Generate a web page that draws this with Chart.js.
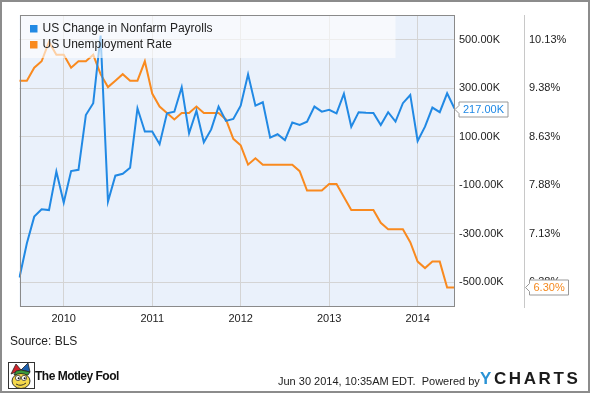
<!DOCTYPE html>
<html>
<head>
<meta charset="utf-8">
<script src="https://cdn.jsdelivr.net/npm/chart.js@4.4.1/dist/chart.umd.min.js"></script>
<style>
  html, body { margin: 0; padding: 0; background: #fff; }
  body { width: 590px; height: 393px; position: relative; overflow: hidden; font-family: "Liberation Sans", Arial, sans-serif; color: #222; }
  #chart { position: absolute; left: 0; top: 0; }
  #frame { position: absolute; left: 0; top: 0; width: 590px; height: 393px; box-sizing: border-box; border: 2px solid #8c8c8c; pointer-events: none; }
  .txt { position: absolute; white-space: nowrap; }
  #source { left: 10px; top: 334px; font-size: 12px; line-height: 14px; }
  #fool { left: 35px; top: 369px; font-size: 12px; line-height: 14px; font-weight: bold; letter-spacing: -0.5px; color: #111; }
  #stamp { left: 278px; top: 374px; font-size: 11px; line-height: 14px; }
  #ycharts { left: 480px; top: 369px; font-size: 17px; line-height: 20px; font-weight: bold; letter-spacing: 2.6px; color: #1b1b1b; }
  #ycharts span { color: #2a93d5; }
  #logo { position: absolute; left: 8px; top: 362px; }
</style>
</head>
<body>
<canvas id="chart" width="590" height="393"></canvas>
<div id="frame"></div>
<div class="txt" id="source">Source: BLS</div>
<svg id="logo" width="27" height="27" viewBox="0 0 27 27">
  <rect x="0.5" y="0.5" width="26" height="26" fill="#fff" stroke="#333" stroke-width="1"/>
  <path d="M3 12 L8 2 L13 8 Z" fill="#d2232a" stroke="#222" stroke-width="0.8"/>
  <path d="M13 8 L20 1 L22 10 Z" fill="#1c5fad" stroke="#222" stroke-width="0.8"/>
  <path d="M8 9 L13 8 L22 10 L20 13 L6 13 Z" fill="#3a9a3a" stroke="#222" stroke-width="0.8"/>
  <ellipse cx="13" cy="19" rx="9" ry="7.5" fill="#f5d84a" stroke="#222" stroke-width="0.9"/>
  <circle cx="10" cy="16" r="2.6" fill="#fff" stroke="#222" stroke-width="0.7"/>
  <circle cx="16" cy="16" r="2.6" fill="#fff" stroke="#222" stroke-width="0.7"/>
  <circle cx="10.6" cy="16.3" r="1" fill="#111"/>
  <circle cx="16.6" cy="16.3" r="1" fill="#111"/>
  <path d="M8 22 Q13 25 18 21" fill="none" stroke="#222" stroke-width="0.9"/>
</svg>
<div class="txt" id="fool">The Motley Fool</div>
<div class="txt" id="stamp">Jun 30 2014, 10:35AM EDT.&nbsp; Powered by</div>
<div class="txt" id="ycharts"><span>Y</span>CHARTS</div>
<script>
// month-end dates, Jun 2009 .. May 2014
const months = [
  '2009-06', '2009-07', '2009-08', '2009-09', '2009-10', '2009-11', '2009-12',
  '2010-01', '2010-02', '2010-03', '2010-04', '2010-05', '2010-06', '2010-07', '2010-08', '2010-09', '2010-10', '2010-11', '2010-12',
  '2011-01', '2011-02', '2011-03', '2011-04', '2011-05', '2011-06', '2011-07', '2011-08', '2011-09', '2011-10', '2011-11', '2011-12',
  '2012-01', '2012-02', '2012-03', '2012-04', '2012-05', '2012-06', '2012-07', '2012-08', '2012-09', '2012-10', '2012-11', '2012-12',
  '2013-01', '2013-02', '2013-03', '2013-04', '2013-05', '2013-06', '2013-07', '2013-08', '2013-09', '2013-10', '2013-11', '2013-12',
  '2014-01', '2014-02', '2014-03', '2014-04', '2014-05'
];

// US change in nonfarm payrolls, thousands
const payrolls = [
  -480, -339, -229, -199, -202, -43, -171, -41, -36, 190, 239, 518,
  -167, -60, -52, -27, 218, 122, 122, 70, 197, 204, 305, 115,
  208, 78, 131, 225, 166, 174, 229, 358, 229, 243, 97, 111,
  87, 159, 149, 163, 225, 204, 212, 197, 278, 142, 202, 200,
  199, 149, 202, 163, 239, 273, 83, 142, 221, 202, 280, 217
];

// US unemployment rate, %
const unemployment = [
  9.5, 9.5, 9.7, 9.8, 10.1, 9.9, 9.9, 9.7, 9.8, 9.8, 9.9, 9.6,
  9.4, 9.5, 9.6, 9.5, 9.5, 9.8, 9.3, 9.1, 9.0, 8.9, 9.0, 9.0,
  9.1, 9.0, 9.0, 9.0, 8.9, 8.6, 8.5, 8.2, 8.3, 8.2, 8.2, 8.2,
  8.2, 8.2, 8.1, 7.8, 7.8, 7.8, 7.9, 7.9, 7.7, 7.5, 7.5, 7.5,
  7.5, 7.3, 7.2, 7.2, 7.2, 7.0, 6.7, 6.6, 6.7, 6.7, 6.3, 6.3
];

const yearLabels = ['2010', '2011', '2012', '2013', '2014'];
const payrollTicks = [-500, -300, -100, 100, 300, 500];
const rateTicks = [6.38, 7.13, 7.88, 8.63, 9.38, 10.13];

const FONT = '"Liberation Sans", Arial, sans-serif';
const BLUE = '#2189e4';
const ORANGE = '#f98a1f';

// year label sits on the December point (end of month ~ Jan 1)
function yearFor(cat) {
  if (!cat.endsWith('-12')) return '';
  const y = String(+cat.slice(0, 4) + 1);
  return yearLabels.includes(y) ? y : '';
}

const bgPlugin = {
  id: 'plotBg',
  beforeDraw(chart) {
    const { ctx, chartArea: a } = chart;
    ctx.save();
    ctx.fillStyle = '#eaf1fb';
    ctx.fillRect(a.left, a.top, a.right - a.left, a.bottom - a.top);
    ctx.restore();
  }
};

const legendPlugin = {
  id: 'overlayLegend',
  afterDatasetsDraw(chart) {
    const { ctx, chartArea: a } = chart;
    ctx.save();
    ctx.fillStyle = 'rgba(255,255,255,0.6)';
    ctx.fillRect(a.left, a.top, 376, 43);
    ctx.font = '12px ' + FONT;
    ctx.textBaseline = 'middle';
    chart.data.datasets.forEach((ds, i) => {
      const y = a.top + 14 + i * 16;
      ctx.fillStyle = ds.borderColor;
      ctx.fillRect(a.left + 10.5, y - 4, 7.5, 7.5);
      ctx.fillStyle = '#222';
      ctx.fillText(ds.label, a.left + 23, y);
    });
    ctx.restore();
  }
};

function drawTag(ctx, x, y, text, color) {
  ctx.font = '11px ' + FONT;
  const w = Math.round(ctx.measureText(text).width) + 8;
  const h = 15;
  const bx = x + 4;
  y = Math.round(y) + 0.5;
  ctx.beginPath();
  ctx.moveTo(x, y);
  ctx.lineTo(bx, y - 4);
  ctx.lineTo(bx, y - h / 2);
  ctx.lineTo(bx + w, y - h / 2);
  ctx.lineTo(bx + w, y + h / 2);
  ctx.lineTo(bx, y + h / 2);
  ctx.lineTo(bx, y + 4);
  ctx.closePath();
  ctx.fillStyle = '#fff';
  ctx.fill();
  ctx.strokeStyle = '#999';
  ctx.lineWidth = 1;
  ctx.stroke();
  ctx.fillStyle = color;
  ctx.textBaseline = 'middle';
  ctx.textAlign = 'left';
  ctx.fillText(text, bx + 4, y + 0.5);
}

const framePlugin = {
  id: 'plotFrame',
  afterDraw(chart) {
    const { ctx, chartArea: a, scales } = chart;
    ctx.save();
    ctx.strokeStyle = '#8a8a8a';
    ctx.lineWidth = 1;
    const l = Math.round(a.left) + 0.5, t = Math.round(a.top) + 0.5;
    const r = Math.round(a.right) - 0.5, b = Math.round(a.bottom) - 0.5;
    ctx.strokeRect(l, t, r - l, b - t);

    const lastP = payrolls[payrolls.length - 1];
    const lastR = unemployment[unemployment.length - 1];
    drawTag(ctx, Math.round(a.right), scales.y.getPixelForValue(lastP), lastP.toFixed(2) + 'K', '#1e88e5');
    drawTag(ctx, Math.round(scales.y1.left) + 0.5, scales.y1.getPixelForValue(lastR), lastR.toFixed(2) + '%', '#f5891f');
    ctx.restore();
  }
};

new Chart(document.getElementById('chart'), {
  type: 'line',
  data: {
    labels: months,
    datasets: [
      {
        label: 'US Change in Nonfarm Payrolls',
        data: payrolls,
        yAxisID: 'y',
        borderColor: BLUE,
        borderWidth: 2,
        pointRadius: 0,
        tension: 0,
        fill: false
      },
      {
        label: 'US Unemployment Rate',
        data: unemployment,
        yAxisID: 'y1',
        borderColor: ORANGE,
        borderWidth: 2,
        pointRadius: 0,
        tension: 0,
        fill: false
      }
    ]
  },
  options: {
    responsive: false,
    animation: false,
    events: [],
    layout: { padding: { left: 19.5, top: 15, right: 15.5, bottom: 66 } },
    plugins: {
      legend: { display: false },
      tooltip: { enabled: false }
    },
    scales: {
      x: {
        type: 'category',
        offset: false,
        afterFit(scale) { scale.height = 20; },
        grid: {
          drawTicks: false,
          color: (c) => (c.tick && c.tick.label) ? '#d4d4d4' : 'rgba(0,0,0,0)'
        },
        border: { display: false },
        ticks: {
          autoSkip: false,
          maxRotation: 0,
          padding: 5,
          color: '#222',
          font: { family: FONT, size: 11 },
          callback: function (val) { return yearFor(this.getLabelForValue(val)); }
        }
      },
      y: {
        position: 'right',
        min: -602,
        max: 603,
        afterFit(scale) { scale.width = 70; },
        afterBuildTicks(scale) { scale.ticks = payrollTicks.map(v => ({ value: v })); },
        grid: { color: '#d4d4d4', drawTicks: false },
        border: { display: false },
        ticks: {
          padding: 4.5,
          color: '#222',
          font: { family: FONT, size: 11 },
          callback: (v) => v.toFixed(2) + 'K'
        }
      },
      y1: {
        position: 'right',
        min: 5.9975,
        max: 10.516,
        afterFit(scale) { scale.width = 50; },
        afterBuildTicks(scale) { scale.ticks = rateTicks.map(v => ({ value: v })); },
        grid: { display: false, drawTicks: false },
        border: { display: true, color: '#c8c8c8' },
        ticks: {
          padding: 4.5,
          color: '#222',
          font: { family: FONT, size: 11 },
          callback: (v) => v.toFixed(2) + '%'
        }
      }
    }
  },
  plugins: [bgPlugin, legendPlugin, framePlugin]
});
</script>
</body>
</html>
